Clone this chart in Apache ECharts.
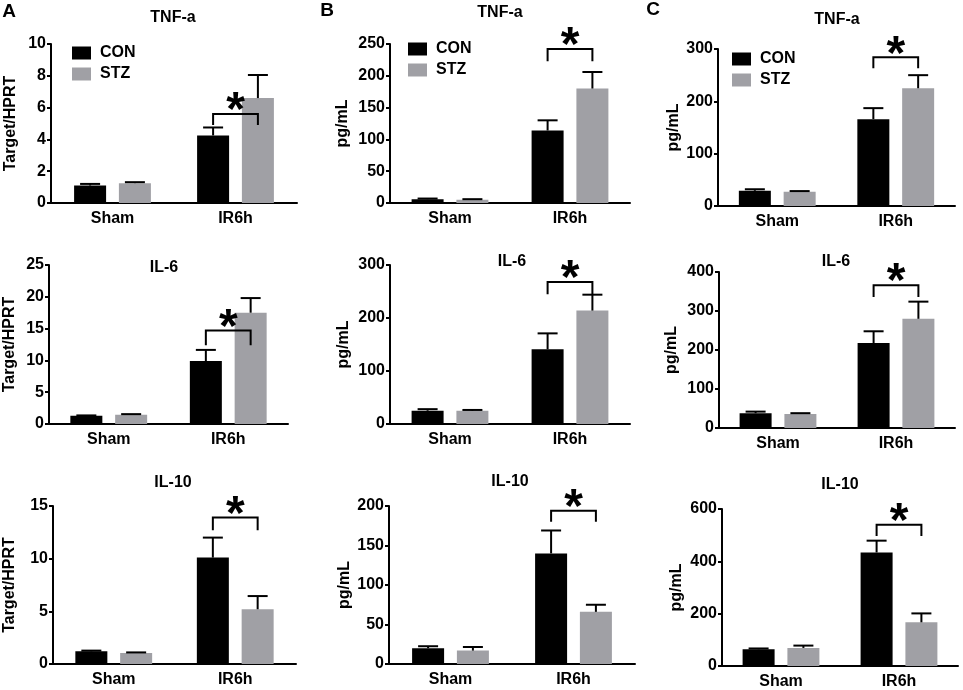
<!DOCTYPE html>
<html>
<head>
<meta charset="utf-8">
<script src="https://cdn.jsdelivr.net/npm/echarts@6/dist/echarts.min.js"></script>
<style>
    html, body { margin: 0; padding: 0; background: #fff; }
    #main { width: 963px; height: 690px; }
</style>
</head>
<body>
<div id="main"></div>
<script>
// data, panels in reading order: row TNF-a, IL-6, IL-10 ; columns A, B, C
var categories = ['Sham', 'IR6h'];
var panelTitles = ['TNF-a', 'TNF-a', 'TNF-a', 'IL-6', 'IL-6', 'IL-6', 'IL-10', 'IL-10', 'IL-10'];
var yNames = ['Target/HPRT', 'pg/mL', 'pg/mL', 'Target/HPRT', 'pg/mL', 'pg/mL', 'Target/HPRT', 'pg/mL', 'pg/mL'];
var yMax = [10, 250, 300, 25, 300, 400, 15, 200, 600];
var yStep = [2, 50, 100, 5, 100, 100, 5, 50, 200];
var conMean = [[1.1, 4.25], [6, 114], [29, 166], [1.3, 9.9], [25, 141], [38, 218], [1.2, 10.1], [20, 140], [64, 434]];
var conErr = [[0.1, 0.5], [1, 16], [3, 21], [0.05, 1.75], [3, 30], [4, 30], [0.07, 1.9], [2.5, 29], [3, 45]];
var stzMean = [[1.25, 6.6], [5, 180], [27, 225], [1.45, 17.5], [25, 214], [36, 280], [1.05, 5.2], [17, 66], [69, 167]];
var stzErr = [[0.06, 1.45], [1, 26], [1.5, 25], [0.1, 2.3], [1.5, 30], [2, 44], [0.05, 1.25], [4.5, 9], [9, 34]];
// significance bracket over IR6h: top line value, foot value
var bracketTop = [5.6, 242, 284, 14.7, 268, 366, 13.9, 194, 540];
var bracketFoot = [4.9, 223, 263, 12.4, 245, 336, 12.7, 180, 497];

// layout of each plot box: [x left, x right, y top, y bottom] in px
var boxes = [
    [51, 297, 44, 203], [390, 630, 44, 203], [718, 955, 49, 206],
    [49, 288, 265, 424], [390, 630, 265, 424], [719, 955, 272, 428],
    [53, 296, 506, 664], [389, 635, 506, 664], [722, 958, 509, 666]
];
var titlePos = [[173, 18], [500, 13], [837, 20], [164, 268], [512, 262], [836, 262], [173, 483], [510, 482], [840, 485]];
var nameGaps = [32, 39, 36, 31, 38, 39, 35, 36, 37];
var legendPos = [[72, 45], [408, 41], [732, 51]];

var FONT = '"Liberation Sans", Arial, sans-serif';
var GRAY = '#a0a0a5';
var OFF = 22.4;   // half distance between the two bars of a group

var myChart = echarts.init(document.getElementById('main'));

function errorBar(offset) {
    return function (params, api) {
        var base = api.coord([api.value(0), api.value(1)]);
        var top = api.coord([api.value(0), api.value(1) + api.value(2)]);
        var x = base[0] + offset;
        return {
            type: 'group',
            children: [
                { type: 'line', shape: { x1: x, y1: base[1], x2: x, y2: top[1] }, style: { stroke: '#000', lineWidth: 2 } },
                { type: 'line', shape: { x1: x - 10, y1: top[1], x2: x + 10, y2: top[1] }, style: { stroke: '#000', lineWidth: 2 } }
            ]
        };
    };
}

function bracket(params, api) {
    var t = api.coord([api.value(0), api.value(1)]);
    var f = api.coord([api.value(0), api.value(2)]);
    var xl = t[0] - OFF, xr = t[0] + OFF;
    return {
        type: 'group',
        children: [
            { type: 'polyline', shape: { points: [[xl, f[1]], [xl, t[1]], [xr, t[1]], [xr, f[1]]] },
              style: { stroke: '#000', lineWidth: 2, fill: null } },
            { type: 'text', x: t[0], y: t[1] - 2,
              style: { text: '*', fill: '#000', font: 'bold 48px ' + FONT, align: 'center', verticalAlign: 'middle' } }
        ]
    };
}

var grids = [], xAxes = [], yAxes = [], series = [], graphics = [];

for (var i = 0; i < 9; i++) {
    var b = boxes[i];
    grids.push({ left: b[0], top: b[2], width: b[1] - b[0], height: b[3] - b[2] });
    xAxes.push({
        type: 'category', gridIndex: i, data: categories,
        axisLine: { lineStyle: { color: '#000', width: 2 } },
        axisTick: { alignWithLabel: true, length: 5, lineStyle: { color: '#000', width: 2 } },
        axisLabel: { color: '#000', fontWeight: 'bold', fontSize: 16, fontFamily: FONT, margin: 8 }
    });
    yAxes.push({
        type: 'value', gridIndex: i, min: 0, max: yMax[i], interval: yStep[i],
        name: yNames[i], nameLocation: 'middle', nameGap: nameGaps[i],
        nameTextStyle: { color: '#000', fontWeight: 'bold', fontSize: 16, fontFamily: FONT },
        axisLine: { show: true, lineStyle: { color: '#000', width: 2 } },
        axisTick: { show: true, length: 4, lineStyle: { color: '#000', width: 2 } },
        axisLabel: { color: '#000', fontWeight: 'bold', fontSize: 16, fontFamily: FONT, margin: 5 },
        splitLine: { show: false }
    });
    series.push({
        name: 'CON', type: 'bar', xAxisIndex: i, yAxisIndex: i, data: conMean[i],
        barWidth: 32, barGap: '40%', itemStyle: { color: '#000' }, silent: true
    });
    series.push({
        name: 'STZ', type: 'bar', xAxisIndex: i, yAxisIndex: i, data: stzMean[i],
        barWidth: 32, barGap: '40%', itemStyle: { color: GRAY }, silent: true
    });
    series.push({
        type: 'custom', xAxisIndex: i, yAxisIndex: i, z: 5, silent: true,
        renderItem: errorBar(-OFF),
        data: [[0, conMean[i][0], conErr[i][0]], [1, conMean[i][1], conErr[i][1]]]
    });
    series.push({
        type: 'custom', xAxisIndex: i, yAxisIndex: i, z: 5, silent: true,
        renderItem: errorBar(OFF),
        data: [[0, stzMean[i][0], stzErr[i][0]], [1, stzMean[i][1], stzErr[i][1]]]
    });
    series.push({
        type: 'custom', xAxisIndex: i, yAxisIndex: i, z: 5, silent: true,
        renderItem: bracket,
        data: [[1, bracketTop[i], bracketFoot[i]]]
    });
    graphics.push({
        type: 'text', x: titlePos[i][0], y: titlePos[i][1],
        style: { text: panelTitles[i], fill: '#000', font: 'bold 16px ' + FONT, align: 'center', verticalAlign: 'middle' }
    });
}

var letterPos = [[9, 12], [327, 11], [653, 10]];
for (var k = 0; k < 3; k++) {
    graphics.push({
        type: 'text', x: letterPos[k][0], y: letterPos[k][1],
        style: { text: ['A', 'B', 'C'][k], fill: '#000', font: 'bold 19px ' + FONT, align: 'center', verticalAlign: 'middle' }
    });
}

var legends = legendPos.map(function (p) {
    return {
        left: p[0], top: p[1], orient: 'vertical', padding: 0,
        data: ['CON', 'STZ'], icon: 'rect', itemWidth: 19, itemHeight: 13, itemGap: 5,
        selectedMode: false,
        textStyle: { color: '#000', fontWeight: 'bold', fontSize: 16, fontFamily: FONT, lineHeight: 16, padding: [0, 0, 0, 4] }
    };
});

var option = {
    animation: false,
    backgroundColor: '#fff',
    grid: grids,
    xAxis: xAxes,
    yAxis: yAxes,
    legend: legends,
    series: series,
    graphic: graphics
};

myChart.setOption(option);
</script>
</body>
</html>
